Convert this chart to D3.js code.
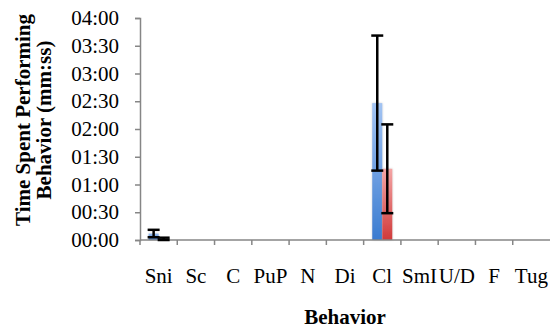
<!DOCTYPE html>
<html>
<head>
<meta charset="utf-8">
<script src="https://cdn.jsdelivr.net/npm/d3@7"></script>
<style>
  html, body { margin: 0; padding: 0; background: #fff; }
  svg text { font-family: "Liberation Serif", "Times New Roman", serif; fill: #000; }
</style>
</head>
<body>
<div id="chart"></div>
<script>
// values in seconds
var categories = ["Sni", "Sc", "C", "PuP", "N", "Di", "Cl", "SmI", "U/D", "F", "Tug"];
var blueMeans  = [7, 0, 0, 0, 0, 0, 148, 0, 0, 0, 0];
var blueErrors = [4, 0, 0, 0, 0, 0, 73, 0, 0, 0, 0];
var redMeans   = [1, 0, 0, 0, 0, 0, 77, 0, 0, 0, 0];
var redErrors  = [1.5, 0, 0, 0, 0, 0, 48, 0, 0, 0, 0];
var yTicks = [0, 30, 60, 90, 120, 150, 180, 210, 240];

var W = 550, H = 329;
var plotLeft = 140, plotRight = 550, plotTop = 18, plotBottom = 240;
var FONT = "21px";

var svg = d3.select("#chart").append("svg")
    .attr("width", W)
    .attr("height", H);

var defs = svg.append("defs");
function addGrad(id, c1, c2) {
    var g = defs.append("linearGradient")
        .attr("id", id)
        .attr("x1", 0).attr("y1", 0).attr("x2", 0).attr("y2", 1);
    g.append("stop").attr("offset", "0%").attr("stop-color", c1);
    g.append("stop").attr("offset", "100%").attr("stop-color", c2);
}
addGrad("blueGrad", "#a3c4f3", "#3a7bd0");
addGrad("redGrad", "#f4a5a5", "#d03a3a");

// soft gray halo round the bars
var glow = defs.append("filter").attr("id", "glow")
    .attr("x", "-40%").attr("y", "-10%").attr("width", "180%").attr("height", "120%");
glow.append("feGaussianBlur").attr("in", "SourceAlpha").attr("stdDeviation", 1.3).attr("result", "b");
glow.append("feFlood").attr("flood-color", "#999").attr("flood-opacity", 0.5);
glow.append("feComposite").attr("in2", "b").attr("operator", "in").attr("result", "s");
var fm = glow.append("feMerge");
fm.append("feMergeNode").attr("in", "s");
fm.append("feMergeNode").attr("in", "SourceGraphic");

var x0 = d3.scaleBand().domain(categories).range([plotLeft, plotRight]).padding(0);
var x1 = d3.scaleBand().domain(["blue", "red"])
    .range([0, x0.bandwidth()]).paddingOuter(0.86).paddingInner(0);
var y = d3.scaleLinear().domain([0, 240]).range([plotBottom, plotTop]);

function fmt(s) {
    var m = Math.floor(s / 60), sec = s % 60;
    return d3.format("02")(m) + ":" + d3.format("02")(sec);
}

var series = [
    { key: "blue", means: blueMeans, errs: blueErrors, fill: "url(#blueGrad)" },
    { key: "red", means: redMeans, errs: redErrors, fill: "url(#redGrad)" }
];

// bars
series.forEach(function(s) {
    svg.append("g").selectAll("rect")
        .data(categories.filter(function(c, i) { return s.means[i] > 0; }))
        .enter()
        .append("rect")
        .attr("x", function(c) { return x0(c) + x1(s.key); })
        .attr("y", function(c) { return y(s.means[categories.indexOf(c)]); })
        .attr("width", x1.bandwidth())
        .attr("height", function(c) { return plotBottom - y(s.means[categories.indexOf(c)]); })
        .attr("fill", s.fill)
        .attr("filter", "url(#glow)");
});

// axes
var yAxis = d3.axisLeft(y).tickValues(yTicks).tickFormat(fmt).tickSize(5).tickPadding(16);
var gy = svg.append("g").attr("transform", "translate(" + plotLeft + ",0)").call(yAxis);
gy.select(".domain").attr("stroke", "#868686").attr("stroke-width", 1.5);
gy.selectAll(".tick line").attr("stroke", "#868686").attr("stroke-width", 1.5);
gy.selectAll("text").style("font-size", FONT).style("font-family", "Liberation Serif").attr("fill", "#000");

var gx = svg.append("g");
gx.append("line")
    .attr("x1", plotLeft).attr("x2", plotRight)
    .attr("y1", plotBottom).attr("y2", plotBottom)
    .attr("stroke", "#868686").attr("stroke-width", 1.5);
gx.selectAll("line.tk")
    .data(categories)
    .enter()
    .append("line")
    .attr("class", "tk")
    .attr("x1", function(c) { return x0(c); })
    .attr("x2", function(c) { return x0(c); })
    .attr("y1", plotBottom).attr("y2", plotBottom + 5)
    .attr("stroke", "#868686").attr("stroke-width", 1.5);
gx.selectAll("text")
    .data(categories)
    .enter()
    .append("text")
    .attr("x", function(c) { return x0(c) + x0.bandwidth() / 2; })
    .attr("y", 282.5)
    .attr("text-anchor", "middle")
    .style("font-size", FONT)
    .text(function(c) { return c; });

// error bars
series.forEach(function(s) {
    var g = svg.append("g");
    categories.forEach(function(c, i) {
        if (!s.errs[i]) return;
        var cx = x0(c) + x1(s.key) + x1.bandwidth() / 2;
        var hi = y(s.means[i] + s.errs[i]);
        var lo = y(Math.max(0, s.means[i] - s.errs[i]));
        g.append("line").attr("x1", cx).attr("x2", cx).attr("y1", hi).attr("y2", lo)
            .attr("stroke", "#000").attr("stroke-width", 2.5);
        [hi, lo].forEach(function(v) {
            g.append("line").attr("x1", cx - 6).attr("x2", cx + 6).attr("y1", v).attr("y2", v)
                .attr("stroke", "#000").attr("stroke-width", 2.5);
        });
    });
});

// titles
svg.append("text")
    .attr("x", (plotLeft + plotRight) / 2)
    .attr("y", 324)
    .attr("text-anchor", "middle")
    .style("font-size", FONT)
    .style("font-weight", "bold")
    .text("Behavior");

var yt = svg.append("text")
    .attr("transform", "translate(0,120) rotate(-90)")
    .attr("text-anchor", "middle")
    .style("font-size", FONT)
    .style("font-weight", "bold");
yt.append("tspan").attr("x", 0).attr("y", 30).text("Time Spent Performing");
yt.append("tspan").attr("x", 0).attr("y", 51).text("Behavior (mm:ss)");
</script>
</body>
</html>
